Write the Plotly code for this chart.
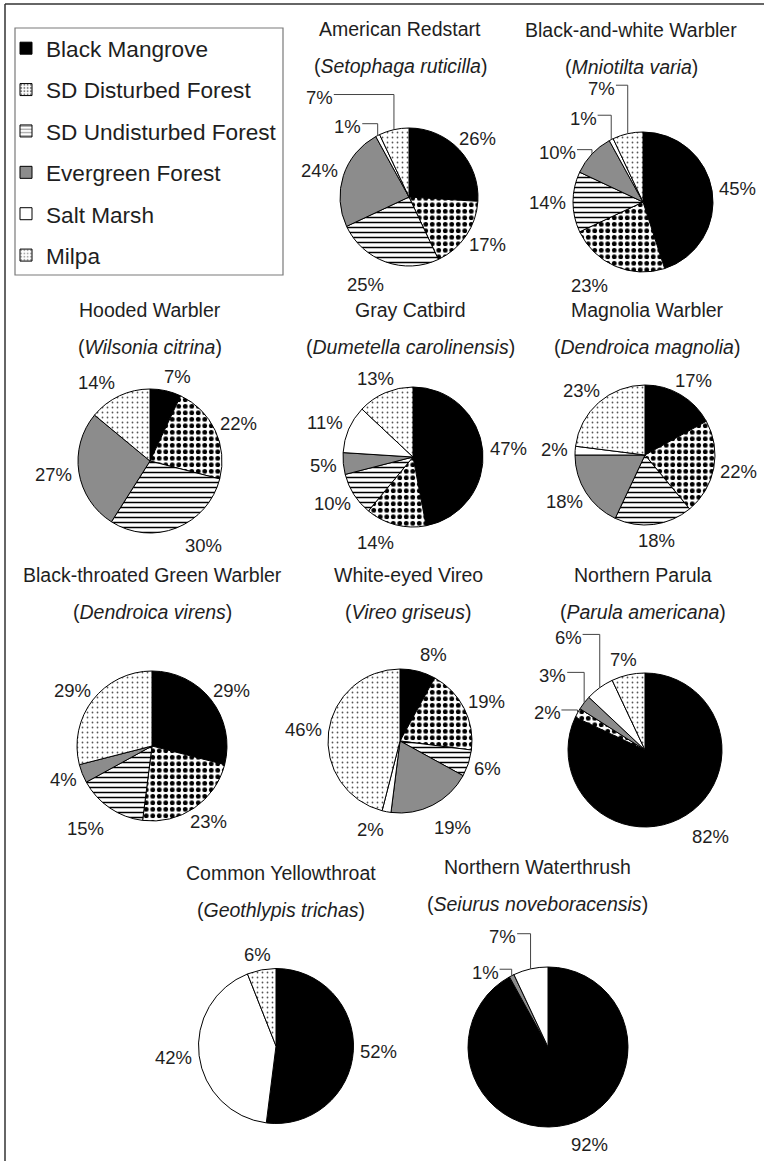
import math
import plotly.graph_objects as go

W, H = 764, 1161
FONT = "Liberation Sans, Arial, sans-serif"
TXT = "#1e1e1e"

# ---------------- data ----------------
categories = ["Black Mangrove", "SD Disturbed Forest", "SD Undisturbed Forest",
              "Evergreen Forest", "Salt Marsh", "Milpa"]

common_names = ["American Redstart", "Black-and-white Warbler", "Hooded Warbler",
                "Gray Catbird", "Magnolia Warbler", "Black-throated Green Warbler",
                "White-eyed Vireo", "Northern Parula", "Common Yellowthroat",
                "Northern Waterthrush"]
latin_names = ["Setophaga ruticilla", "Mniotilta varia", "Wilsonia citrina",
               "Dumetella carolinensis", "Dendroica magnolia", "Dendroica virens",
               "Vireo griseus", "Parula americana", "Geothlypis trichas",
               "Seiurus noveboracensis"]

# percent of records per habitat, in category order
american_redstart = [26, 17, 25, 24, 1, 7]
black_and_white_warbler = [45, 23, 14, 10, 1, 7]
hooded_warbler = [7, 22, 30, 27, 0, 14]
gray_catbird = [47, 14, 10, 5, 11, 13]
magnolia_warbler = [17, 22, 18, 18, 2, 23]
black_throated_green_warbler = [29, 23, 15, 4, 0, 29]
white_eyed_vireo = [8, 19, 6, 19, 2, 46]
northern_parula = [82, 2, 0, 3, 6, 7]
common_yellowthroat = [52, 0, 0, 0, 42, 6]
northern_waterthrush = [92, 0, 0, 1, 7, 0]

series = [american_redstart, black_and_white_warbler, hooded_warbler, gray_catbird,
          magnolia_warbler, black_throated_green_warbler, white_eyed_vireo,
          northern_parula, common_yellowthroat, northern_waterthrush]

# ---------------- layout (pixels) ----------------
# pie centre x, centre y, radius, title centre x, title y
panel_layout = [
    (409, 197, 69, 400, 29),
    (643, 202, 70, 631, 30),
    (150, 461, 72, 150, 310),
    (413, 457, 70, 410, 310),
    (645, 455, 70, 647, 310),
    (152, 746, 75, 152, 575),
    (400, 741, 72, 408, 575),
    (645, 750, 77, 643, 575),
    (276, 1046, 77.5, 281, 873),
    (548, 1047, 80, 537, 867),
]
SUB_DY = 37

# label placement overrides: (panel, category) -> (angle deg clockwise from top, distance in radii)
label_override = {
    (0, 2): (206.6, 1.42), (0, 4): (319, 1.35), (0, 5): (318, 1.94),
    (1, 1): (212.6, 1.41), (1, 3): (300, 1.41), (1, 4): (324.5, 1.47), (1, 5): (340, 1.73),
    (2, 0): (18, 1.23), (2, 2): (148, 1.39), (2, 5): (326, 1.32),
    (3, 1): (203.8, 1.34),
    (5, 2): (219, 1.41),
    (6, 0): (21, 1.28), (6, 3): (148.6, 1.41), (6, 4): (198.6, 1.3),
    (7, 0): (143, 1.41), (7, 1): (290.7, 1.36), (7, 3): (309, 1.54), (7, 4): (325.7, 1.77),
    (9, 0): (156.8, 1.33), (9, 3): (320, 1.22), (9, 4): (337.7, 1.49),
}
leader_lines = {(0, 4), (0, 5), (1, 3), (1, 4), (1, 5), (7, 1), (7, 3), (7, 4), (9, 3), (9, 4)}

# styles per category
fill_color = ["#000000", "#ffffff", "#ffffff", "#8c8c8c", "#ffffff", "#ffffff"]
pat_shape = ["", ".", "-", "", "", "."]
pat_fg = ["#000000", "#000000", "#000000", "#000000", "#000000", "#555555"]
pat_bg = ["#000000", "#ffffff", "#ffffff", "#8c8c8c", "#ffffff", "#ffffff"]
pat_size = [6, 6.5, 5, 6, 6, 5]
pat_solid = [0.3, 0.42, 0.3, 0.3, 0.3, 0.1]

LABEL_FS = 18.5
TITLE_FS = 19.5
LEGEND_FS = 22.6


def px(x):
    return x / W


def py(y):
    return 1 - y / H


def text_w(s, fs):
    w = 0.0
    for ch in s:
        w += 0.889 if ch == "%" else 0.556
    return w * fs


fig = go.Figure()
annotations = []
shapes = []

for p, (vals, (cx, cy, r, tx, ty)) in enumerate(zip(series, panel_layout)):
    idx = [i for i, v in enumerate(vals) if v > 0]
    fig.add_trace(go.Pie(
        values=[vals[i] for i in idx],
        labels=[categories[i] for i in idx],
        sort=False, direction="clockwise", rotation=0,
        domain=dict(x=[px(cx - r), px(cx + r)], y=[py(cy + r), py(cy - r)]),
        marker=dict(
            colors=[fill_color[i] for i in idx],
            line=dict(color="#000000", width=1),
            pattern=dict(shape=[pat_shape[i] for i in idx],
                         fgcolor=[pat_fg[i] for i in idx],
                         bgcolor=[pat_bg[i] for i in idx],
                         size=[pat_size[i] for i in idx],
                         solidity=[pat_solid[i] for i in idx]),
        ),
        textinfo="none", hoverinfo="label+percent", showlegend=False,
    ))

    # titles
    annotations.append(dict(x=px(tx), y=py(ty), xref="paper", yref="paper",
                            text=common_names[p], showarrow=False,
                            xanchor="center", yanchor="middle",
                            font=dict(size=TITLE_FS, family=FONT, color=TXT)))
    annotations.append(dict(x=px(tx), y=py(ty + SUB_DY), xref="paper", yref="paper",
                            text="(<i>" + latin_names[p] + "</i>)", showarrow=False,
                            xanchor="center", yanchor="middle",
                            font=dict(size=TITLE_FS, family=FONT, color=TXT)))

    # percentage labels
    total = sum(vals)
    cum = 0.0
    for i, v in enumerate(vals):
        if v <= 0:
            continue
        mid = (cum + v / 2) / total * 360.0
        cum += v
        txt = f"{v}%"
        tw = text_w(txt, LABEL_FS)
        if (p, i) in label_override:
            ang, k = label_override[(p, i)]
            a = math.radians(ang)
            lx = cx + k * r * math.sin(a)
            ly = cy - k * r * math.cos(a)
        else:
            a = math.radians(mid)
            ux, uy = math.sin(a), -math.cos(a)
            g = 7
            lx = cx + (r + g) * ux + ux * tw / 2
            ly = cy + (r + g) * uy + uy * 9
        annotations.append(dict(x=px(lx), y=py(ly), xref="paper", yref="paper",
                                text=txt, showarrow=False,
                                xanchor="center", yanchor="middle",
                                font=dict(size=LABEL_FS, family=FONT, color=TXT)))
        if (p, i) in leader_lines:
            am = math.radians(mid)
            ex = cx + r * math.sin(am)
            ey = cy - r * math.cos(am)
            sx = lx + tw / 2 + 1
            sy = ly - 3
            path = (f"M{px(sx)},{py(sy)} L{px(max(ex, sx + 4))},{py(sy)} "
                    f"L{px(ex)},{py(ey)}")
            shapes.append(dict(type="path", path=path, xref="paper", yref="paper",
                               line=dict(color="#444444", width=1)))

# legend swatches (legend-only traces)
for i, cat in enumerate(categories):
    fig.add_trace(go.Bar(
        x=[None], y=[None], name=cat, legendgroup=cat, showlegend=True,
        marker=dict(color=fill_color[i], line=dict(color="#000000", width=1),
                    pattern=dict(shape=pat_shape[i], fgcolor=pat_fg[i], bgcolor=pat_bg[i],
                                 size=4 if pat_shape[i] else 6,
                                 solidity=0.3 if pat_shape[i] else 0.3)),
    ))

# legend box
shapes.append(dict(type="rect", xref="paper", yref="paper",
                   x0=px(15), x1=px(283), y0=py(275), y1=py(28),
                   line=dict(color="#7a7a7a", width=1.2), fillcolor="rgba(0,0,0,0)"))
# outer frame (top and left)
shapes.append(dict(type="line", xref="paper", yref="paper",
                   x0=px(5), x1=px(764), y0=py(4), y1=py(4),
                   line=dict(color="#333333", width=1.5)))
shapes.append(dict(type="line", xref="paper", yref="paper",
                   x0=px(5), x1=px(5), y0=py(4), y1=py(1161),
                   line=dict(color="#333333", width=1.5)))

fig.update_layout(
    width=W, height=H,
    margin=dict(l=0, r=0, t=0, b=0),
    paper_bgcolor="#ffffff", plot_bgcolor="#ffffff",
    xaxis=dict(visible=False), yaxis=dict(visible=False),
    showlegend=True,
    legend=dict(x=px(6), y=py(27), xanchor="left", yanchor="top",
                font=dict(size=LEGEND_FS, family=FONT, color=TXT),
                bgcolor="rgba(0,0,0,0)", borderwidth=0,
                tracegroupgap=9, traceorder="grouped", itemclick=False,
                itemdoubleclick=False),
    annotations=annotations,
    shapes=shapes,
    font=dict(family=FONT, color=TXT),
)

fig.write_html("out.html")
